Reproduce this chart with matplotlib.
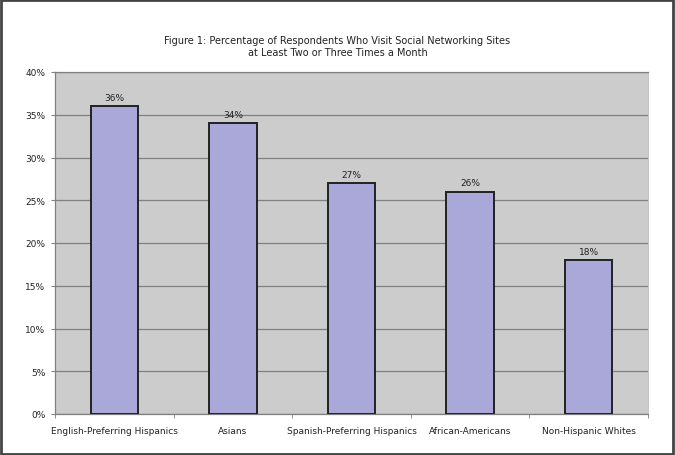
import matplotlib.pyplot as plt
from matplotlib.patches import Rectangle
from matplotlib.ticker import FuncFormatter, FixedLocator

# Data
categories = ['English-Preferring Hispanics', 'Asians', 'Spanish-Preferring Hispanics',
              'African-Americans', 'Non-Hispanic Whites']
values = [36, 34, 27, 26, 18]
title = 'Figure 1: Percentage of Respondents Who Visit Social Networking Sites\nat Least Two or Three Times a Month'

BG = '#cccccc'
BAR = '#a9a8d8'

fig = plt.figure(figsize=(6.75, 4.56), dpi=100)
ax = fig.add_axes([55 / 675, 1 - 415 / 456, (648 - 55) / 675, (415 - 73) / 456])

x = range(len(categories))
ax.bar(x, values, width=0.4, color=BAR, edgecolor='#222222', linewidth=1.4, zorder=3)
for i, v in zip(x, values):
    ax.text(i, v + 0.5, f'{v}%', ha='center', va='bottom', fontsize=6.5, color='#222222')

ax.set_facecolor(BG)
ax.set_xlim(-0.5, len(categories) - 0.5)
ax.set_ylim(0, 40)
ax.set_yticks(range(0, 41, 5))
ax.yaxis.set_major_formatter(FuncFormatter(lambda v, p: f'{v:.0f}%'))
ax.grid(axis='y', color='#808080', linewidth=0.9, zorder=0)
ax.set_xticks(list(x))
ax.set_xticklabels(categories, fontsize=6.5, color='#222222')
ax.xaxis.set_minor_locator(FixedLocator([i + 0.5 for i in range(-1, len(categories))]))
ax.tick_params(axis='x', which='major', length=0, pad=9)
ax.tick_params(axis='x', which='minor', length=3, color='#808080')
ax.tick_params(axis='y', length=3, color='#808080', labelsize=6.5, labelcolor='#222222', pad=4)
ax.spines['top'].set_color('#808080')
ax.spines['top'].set_linewidth(0.9)
ax.spines['right'].set_color('#bbbbbb')
ax.spines['right'].set_linewidth(0.6)
for s in ['left', 'bottom']:
    ax.spines[s].set_color('#808080')
    ax.spines[s].set_linewidth(0.9)

fig.text(0.5, 1 - 47 / 456, title, ha='center', va='center', fontsize=7, color='#222222',
         linespacing=1.3)

fig.add_artist(Rectangle((0.002, 0.003), 0.995, 0.994, transform=fig.transFigure,
                         fill=False, edgecolor='#444444', linewidth=2))

fig.savefig('out.png', dpi=100)
